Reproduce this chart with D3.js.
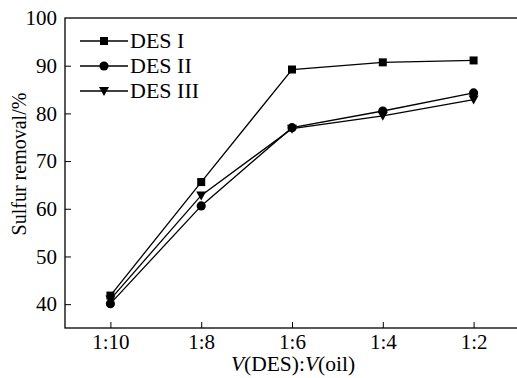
<!DOCTYPE html>
<html><head><meta charset="utf-8">
<script src="https://cdn.jsdelivr.net/npm/d3@7"></script>
<style>body{margin:0;background:#fff}svg{display:block}</style>
</head><body>
<svg id="c" width="517" height="378"></svg>
<script>
const categories = ["1:10","1:8","1:6","1:4","1:2"];
const seriesNames = ["DES I","DES II","DES III"];
const desI = [41.8, 65.6, 89.2, 90.7, 91.1];
const desII = [40.1, 60.6, 77.0, 80.5, 84.3];
const desIII = [41.0, 62.8, 76.8, 79.5, 82.9];
const yTicks = [40,50,60,70,80,90,100];
const markers = ["square","circle","triangle"];

const svg = d3.select("#c");
const m = {l:65, t:18, r:519, b:328};
const font = "'Liberation Serif','Times New Roman',serif";

const x = d3.scalePoint().domain(categories).range([m.l, m.r]).padding(0.5);
const y = d3.scaleLinear().domain([35,100]).range([m.b, m.t]);

// frame
svg.append("rect").attr("x",m.l).attr("y",m.t).attr("width",m.r-m.l).attr("height",m.b-m.t)
  .attr("fill","none").attr("stroke","#000").attr("stroke-width",1.3);

// axes
const gx = svg.append("g").attr("transform",`translate(0,${m.b})`)
  .call(d3.axisBottom(x).tickSize(-6).tickPadding(6));
const gy = svg.append("g").attr("transform",`translate(${m.l},0)`)
  .call(d3.axisLeft(y).tickValues(yTicks).tickSize(-6).tickPadding(8));
[gx,gy].forEach(g=>{
  g.select(".domain").remove();
  g.selectAll(".tick line").attr("stroke","#000").attr("stroke-width",1);
  g.selectAll("text").attr("font-family",font).attr("font-size",21).attr("fill","#000");
});
gy.selectAll(".tick").filter(d=>d===100).select("line").remove();

// axis titles
svg.append("text").attr("transform","translate(26,164) rotate(-90)")
  .attr("text-anchor","middle").attr("font-family",font).attr("font-size",20).text("Sulfur removal/%");
const xt = svg.append("text").attr("x",293).attr("y",371).attr("text-anchor","middle")
  .attr("font-family",font).attr("font-size",21.5);
xt.append("tspan").attr("font-style","italic").text("V");
xt.append("tspan").text("(DES):");
xt.append("tspan").attr("font-style","italic").text("V");
xt.append("tspan").text("(oil)");

const sym = {
  square: d3.symbol(d3.symbolSquare, 64),
  circle: d3.symbol(d3.symbolCircle, 66),
};
function drawMarker(g, type, cx, cy){
  if(type==="triangle"){
    g.append("path").attr("d",`M${cx-5},${cy-4}L${cx+5},${cy-4}L${cx},${cy+5}Z`).attr("fill","#000");
  } else {
    g.append("path").attr("d",sym[type]()).attr("transform",`translate(${cx},${cy})`).attr("fill","#000");
  }
}

const allSeries = [desI, desII, desIII];
const line = d3.line().x((d,i)=>x(categories[i])).y(d=>y(d));
allSeries.forEach((s,k)=>{
  svg.append("path").datum(s).attr("d",line).attr("fill","none").attr("stroke","#000").attr("stroke-width",1.3);
});
allSeries.forEach((s,k)=>{
  const g = svg.append("g");
  s.forEach((v,i)=>drawMarker(g, markers[k], x(categories[i]), y(v)));
});

// legend
const lg = svg.append("g");
seriesNames.forEach((n,k)=>{
  const ly = 41 + k*25;
  lg.append("line").attr("x1",80).attr("x2",128).attr("y1",ly).attr("y2",ly).attr("stroke","#000").attr("stroke-width",1.3);
  drawMarker(lg, markers[k], 104, ly);
  lg.append("text").attr("x",130).attr("y",ly+7).attr("font-family",font).attr("font-size",22).text(n);
});
</script>
</body></html>
